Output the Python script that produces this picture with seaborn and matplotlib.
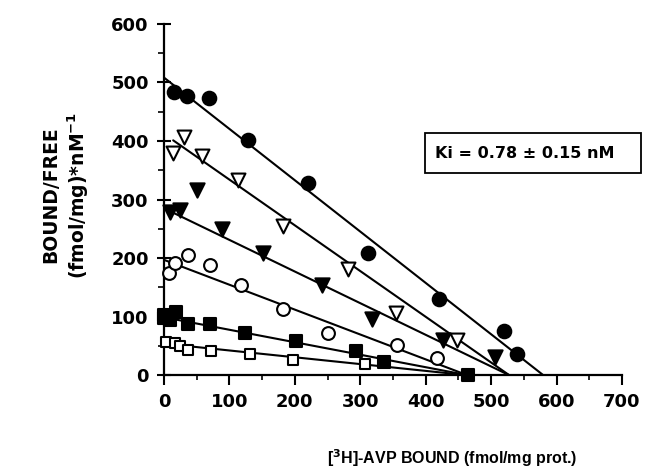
import matplotlib
matplotlib.use("Agg")
import matplotlib.pyplot as plt
import seaborn as sns
from matplotlib.patches import Rectangle
from matplotlib.ticker import MultipleLocator

# ---- data ----
circ_f_x = [15, 35, 69, 129, 220, 312, 421, 519, 539]
circ_f_y = [483, 477, 473, 401, 329, 209, 131, 76, 37]

tri_o_x = [13, 30, 58, 113, 182, 281, 355, 448]
tri_o_y = [379, 407, 375, 333, 255, 181, 106, 60]

tri_f_x = [9, 24, 51, 88, 152, 242, 318, 426, 506]
tri_f_y = [279, 282, 317, 249, 208, 154, 96, 60, 32]

circ_o_x = [7, 17, 36, 70, 117, 182, 250, 356, 417]
circ_o_y = [175, 191, 205, 189, 154, 113, 73, 51, 29]

sq_f_x = [0, 0, 9, 19, 36, 70, 124, 201, 294, 337, 465]
sq_f_y = [103, 97, 94, 108, 88, 88, 73, 59, 42, 22, 0]

sq_o_x = [3, 17, 24, 37, 72, 131, 197, 307]
sq_o_y = [57, 55, 50, 43, 41, 36, 26, 20]

# regression lines: (x start, x end), (y start, y end)
line_circ_f = ([0, 580], [508, 0])
line_tri_o = ([14, 528], [401, 0])
line_tri_f = ([0, 528], [285, 0])
line_circ_o = ([0, 464], [197, 0])
line_sq_f = ([0, 465], [99, 0])
line_sq_o = ([0, 465], [54, 0])

x_ticks = [0, 100, 200, 300, 400, 500, 600, 700]
y_ticks = [0, 100, 200, 300, 400, 500, 600]

ki_text = "Ki = 0.78 ± 0.15 nM"
x_label = r"[$\mathbf{^3}$H]-AVP BOUND (fmol/mg prot.)"
y_label = "BOUND/FREE\n(fmol/mg)*nM$\\mathbf{^{-1}}$"

# ---- style ----
sns.set_style("ticks")
plt.rcParams["font.family"] = ["DejaVu Sans"]
plt.rcParams["font.weight"] = "bold"
plt.rcParams["mathtext.default"] = "bf"
for k in ["text.color", "axes.labelcolor", "xtick.color", "ytick.color", "axes.edgecolor"]:
    plt.rcParams[k] = "black"

fig = plt.figure(figsize=(6.46, 4.74), dpi=100)
ax = fig.add_axes([0.2539, 0.2082, 0.7089, 0.7418])

lines = [line_circ_f, line_tri_o, line_tri_f, line_circ_o, line_sq_f, line_sq_o]
for lx, ly in lines:
    sns.lineplot(x=lx, y=ly, ax=ax, color="black", linewidth=1.5,
                 estimator=None, sort=False)

series = [
    (circ_f_x, circ_f_y, "o", "black", 95),
    (tri_o_x, tri_o_y, "v", "white", 100),
    (tri_f_x, tri_f_y, "v", "black", 105),
    (circ_o_x, circ_o_y, "o", "white", 85),
    (sq_f_x, sq_f_y, "s", "black", 80),
    (sq_o_x, sq_o_y, "s", "white", 62),
]
for sx, sy, m, fc, s in series:
    sns.scatterplot(x=sx, y=sy, ax=ax, marker=m, s=s, facecolor=fc,
                    edgecolor="black", linewidth=1.5, clip_on=False, zorder=3)

ax.set_xlim(0, 700)
ax.set_ylim(0, 600)
ax.set_xticks(x_ticks)
ax.set_yticks(y_ticks)
ax.set_xticklabels([str(v) for v in x_ticks], fontsize=13, fontweight="bold")
ax.set_yticklabels([str(v) for v in y_ticks], fontsize=13, fontweight="bold")
ax.xaxis.set_minor_locator(MultipleLocator(50))
ax.yaxis.set_minor_locator(MultipleLocator(50))
ax.tick_params(axis="x", which="major", direction="out", length=7, width=1.5, pad=6, colors="black")
ax.tick_params(axis="x", which="minor", direction="out", length=3.5, width=1.2, colors="black")
ax.tick_params(axis="y", which="major", direction="inout", length=10, width=1.5, pad=6, colors="black")
ax.tick_params(axis="y", which="minor", direction="out", length=4, width=1.2, colors="black")
for sp in ["top", "right"]:
    ax.spines[sp].set_visible(False)
for sp in ["left", "bottom"]:
    ax.spines[sp].set_linewidth(1.6)
    ax.spines[sp].set_color("black")
ax.set_xlabel("")
ax.set_ylabel("")

fig.text(452 / 646, 1 - 458 / 474, x_label, ha="center", va="center",
         fontsize=11.5, fontweight="bold", family=["Liberation Sans", "DejaVu Sans"],
         color="black")
fig.text(66 / 646, 1 - 195 / 474, y_label, ha="center", va="center",
         rotation=90, fontsize=13.5, fontweight="bold", multialignment="center",
         linespacing=1.25, color="black")

fig.patches.append(Rectangle((425 / 646, 1 - 173 / 474), (641 - 425) / 646, 40 / 474,
                             transform=fig.transFigure, fill=False,
                             edgecolor="black", linewidth=1.3))
fig.text(435 / 646, 1 - 153 / 474, ki_text, ha="left", va="center",
         fontsize=11.5, fontweight="bold", color="black")

fig.savefig("out.png", dpi=100)
